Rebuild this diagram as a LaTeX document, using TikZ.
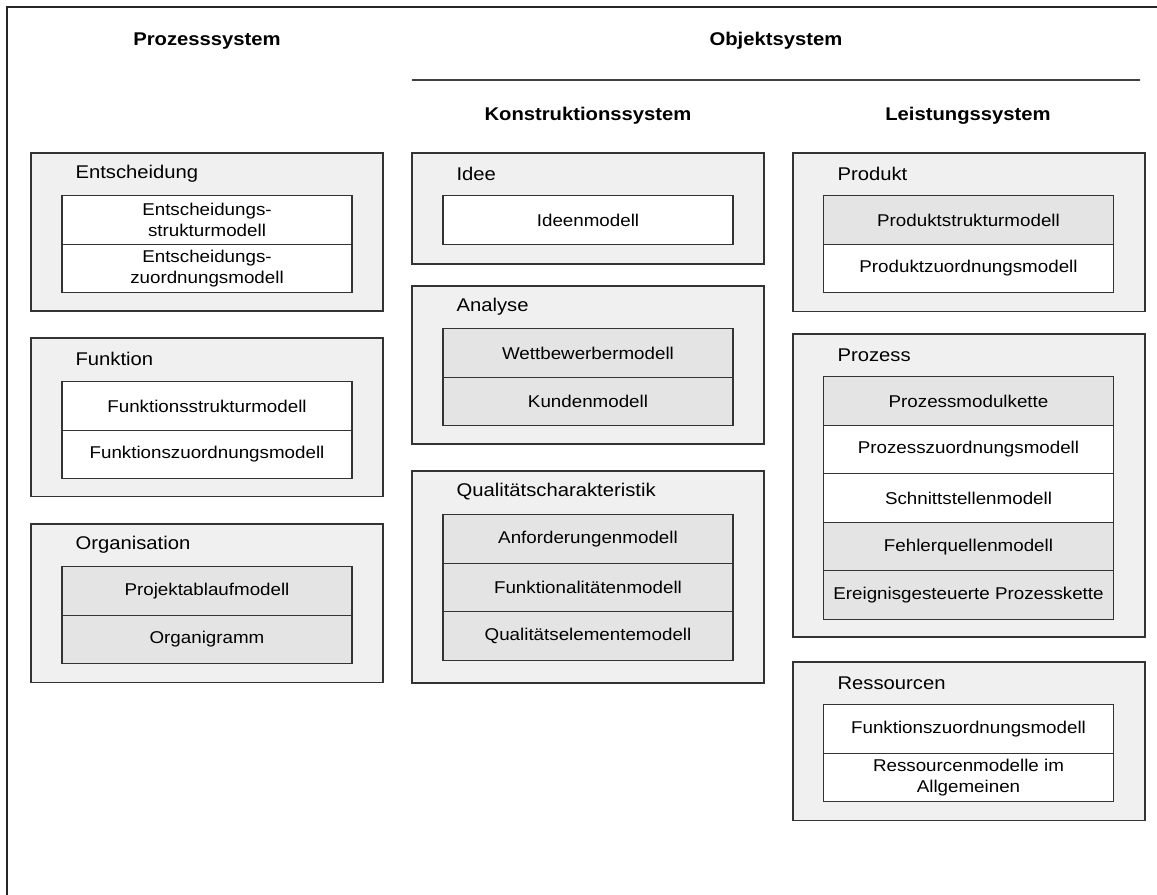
\documentclass[tikz,border=0pt]{standalone}
\usepackage{fontspec}
\setmainfont[FakeStretch=1.1]{Liberation Sans}
\usetikzlibrary{positioning}
\definecolor{groupfill}{HTML}{F0F0F0}
\definecolor{modelgray}{HTML}{E4E4E4}
\definecolor{linegray}{HTML}{333333}
\tikzset{
    every picture/.style={line width=0.9pt},
    group/.style={draw=linegray,fill=groupfill,anchor=north west,minimum width=264pt,inner sep=0pt,outer sep=0pt},
    grouplabel/.style={anchor=west,inner sep=0pt,font=\fontsize{13.8}{15}\selectfont},
    model/.style={draw=linegray,fill=white,minimum width=217.5pt,minimum height=36.4pt,inner sep=0pt,outer sep=0pt,align=center,font=\fontsize{12.8}{15.5}\selectfont},
    greymodel/.style={model,fill=modelgray},
    heading/.style={inner sep=0pt,font=\bfseries\fontsize{13.8}{15}\selectfont}
}
\begin{document}
\begin{tikzpicture}[x=0.75pt,y=-0.75pt]
    \useasboundingbox (0,0) rectangle (1157,895);

    % frame and headings
    \coordinate (fbot) at (7,895);
    \coordinate (fcorner) at (7,7);
    \coordinate (fright) at (1157,7);
    \draw[line width=1.3pt,black!85] (fbot) -- (fcorner) -- (fright);
    \node[heading] (prozesssystem) at (207,41) {Prozesssystem};
    \node[heading] (objektsystem) at (776,41) {Objektsystem};
    \coordinate (objl) at (412,80);
    \coordinate (objr) at (1140,80);
    \draw[line width=0.8pt,black!75] (objl) -- (objr);
    \node[heading] (konstruktion) at (588,116) {Konstruktionssystem};
    \node[heading] (leistung) at (968,116) {Leistungssystem};

    % Prozesssystem
    \node[group,minimum height=118.5pt] (entscheidung) at (31,153) {};
    \node[grouplabel] at (75,174) {Entscheidung};
    \node[model] (ent1) at (207,220) {Entscheidungs-\\strukturmodell};
    \node[model,below=0pt of ent1] (ent2) {Entscheidungs-\\zuordnungsmodell};

    \node[group,minimum height=119pt] (funktion) at (31,338) {};
    \node[grouplabel] at (75,359) {Funktion};
    \node[model] (fkt1) at (207,406) {Funktionsstrukturmodell};
    \node[model,below=0pt of fkt1] (fkt2) {Funktionszuordnungsmodell};

    \node[group,minimum height=119pt] (organisation) at (31,524) {};
    \node[grouplabel] at (75,545) {Organisation};
    \node[greymodel] (org1) at (207,591) {Projektablaufmodell};
    \node[greymodel,below=0pt of org1] (org2) {Organigramm};

    % Konstruktionssystem
    \node[group,minimum height=83.25pt] (idee) at (412,153) {};
    \node[grouplabel] at (456,174) {Idee};
    \node[model] (idee1) at (588,220) {Ideenmodell};

    \node[group,minimum height=118.5pt] (analyse) at (412,286) {};
    \node[grouplabel] at (456,307) {Analyse};
    \node[greymodel] (ana1) at (588,353) {Wettbewerbermodell};
    \node[greymodel,below=0pt of ana1] (ana2) {Kundenmodell};

    \node[group,minimum height=159pt] (qualitaet) at (412,471) {};
    \node[grouplabel] at (456,492) {Qualitätscharakteristik};
    \node[greymodel] (qua1) at (588,539) {Anforderungenmodell};
    \node[greymodel,below=0pt of qua1] (qua2) {Funktionalitätenmodell};
    \node[greymodel,below=0pt of qua2] (qua3) {Qualitätselementemodell};

    % Leistungssystem
    \node[group,minimum height=119pt] (produkt) at (793,153) {};
    \node[grouplabel] at (837,174) {Produkt};
    \node[greymodel] (pro1) at (968.5,220) {Produktstrukturmodell};
    \node[model,below=0pt of pro1] (pro2) {Produktzuordnungsmodell};

    \node[group,minimum height=227.25pt] (prozess) at (793,334) {};
    \node[grouplabel] at (837,355) {Prozess};
    \node[greymodel] (prz1) at (968.5,401) {Prozessmodulkette};
    \node[model,below=0pt of prz1] (prz2) {Prozesszuordnungsmodell};
    \node[model,below=0pt of prz2] (prz3) {Schnittstellenmodell};
    \node[greymodel,below=0pt of prz3] (prz4) {Fehlerquellenmodell};
    \node[greymodel,below=0pt of prz4] (prz5) {Ereignisgesteuerte Prozesskette};

    \node[group,minimum height=119pt] (ressourcen) at (793,662) {};
    \node[grouplabel] at (837,683) {Ressourcen};
    \node[model] (res1) at (968.5,729) {Funktionszuordnungsmodell};
    \node[model,below=0pt of res1] (res2) {Ressourcenmodelle im\\Allgemeinen};
\end{tikzpicture}
\end{document}
